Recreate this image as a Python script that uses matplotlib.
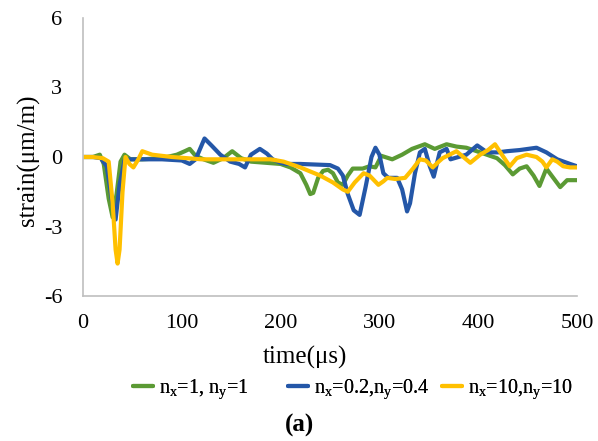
import matplotlib
matplotlib.use('Agg')
import matplotlib.pyplot as plt

# strain traces (time in us, strain in um/m)
t_green = [0, 10, 17, 21, 26, 30, 34, 38, 42, 48, 60, 80, 95, 103, 108, 114, 122, 132, 142, 151,
           160, 170, 185, 200, 210, 220, 226, 230, 233, 238, 243, 248, 253, 258, 263, 268, 273,
           283, 290, 296, 302, 313, 323, 333, 346, 356, 368, 378, 388, 402, 412, 419, 427, 435,
           442, 449, 456, 462, 469, 476, 483, 490, 500]
v_green = [0, 0, 0.1, -0.3, -1.8, -2.6, -1.6, -0.2, 0.1, -0.1, -0.1, -0.05, 0.1, 0.25, 0.35, 0.05,
           -0.1, -0.25, -0.05, 0.25, -0.05, -0.2, -0.25, -0.3, -0.45, -0.7, -1.2, -1.6, -1.55,
           -0.9, -0.6, -0.55, -0.7, -1.1, -1.2, -0.8, -0.5, -0.5, -0.4, -0.45, 0.05, -0.1, 0.1,
           0.35, 0.55, 0.35, 0.55, 0.45, 0.4, 0.2, 0.05, -0.05, -0.35, -0.75, -0.5, -0.4, -0.8,
           -1.25, -0.5, -0.9, -1.3, -1.0, -1.0]

t_blue = [0, 10, 18, 24, 29, 33, 37, 42, 48, 60, 80, 100, 108, 114, 119, 123, 130, 139, 149, 158,
          164, 170, 179, 186, 192, 200, 206, 220, 250, 258, 263, 268, 274, 280, 286, 292, 296,
          300, 304, 309, 318, 323, 328, 331, 336, 341, 346, 351, 355, 361, 368, 372, 380, 388,
          399, 409, 420, 429, 442, 459, 469, 480, 493, 500]
v_blue = [0, 0, -0.05, -0.4, -1.8, -2.7, -1.2, -0.15, -0.1, -0.1, -0.1, -0.15, -0.3, -0.1, 0.4,
          0.8, 0.5, 0.1, -0.2, -0.3, -0.45, 0.1, 0.35, 0.15, -0.1, -0.25, -0.3, -0.3, -0.35,
          -0.5, -0.8, -1.6, -2.3, -2.5, -1.3, 0.0, 0.4, 0.1, -0.7, -0.9, -0.9, -1.4, -2.35,
          -2.0, -0.7, 0.2, 0.35, -0.4, -0.85, 0.2, 0.35, -0.1, 0.0, 0.1, 0.5, 0.2, 0.2, 0.25,
          0.3, 0.4, 0.2, -0.1, -0.3, -0.4]

t_yellow = [0, 10, 20, 26, 30, 33, 35, 37, 40, 43, 47, 51, 56, 60, 70, 90, 120, 160, 190, 203,
            220, 240, 253, 263, 268, 275, 284, 290, 299, 304, 308, 316, 326, 334, 341, 347,
            354, 360, 364, 371, 378, 385, 392, 402, 410, 417, 424, 432, 439, 449, 459, 465,
            469, 475, 480, 486, 493, 500]
v_yellow = [0, 0, -0.05, -0.2, -2.0, -4.0, -4.6, -4.0, -1.5, 0.0, -0.3, -0.45, -0.1, 0.25, 0.1,
            0.0, -0.1, -0.1, -0.1, -0.2, -0.45, -0.8, -1.1, -1.4, -1.5, -1.1, -0.7, -0.8, -1.2,
            -1.05, -0.9, -0.95, -0.9, -0.5, -0.1, -0.15, -0.45, -0.2, -0.05, 0.1, 0.25, 0.0,
            -0.25, 0.1, 0.3, 0.55, 0.1, -0.4, -0.05, 0.1, 0.0, -0.2, -0.45, -0.1, -0.2, -0.4,
            -0.45, -0.45]

labels = [r'n$_\mathregular{x}$=1, n$_\mathregular{y}$=1',
          r'n$_\mathregular{x}$=0.2,n$_\mathregular{y}$=0.4',
          r'n$_\mathregular{x}$=10,n$_\mathregular{y}$=10']
colors = ['#5b9a34', '#2457a8', '#ffc000']

plt.rcParams['font.family'] = ['Liberation Serif', 'DejaVu Serif']
plt.rcParams['mathtext.fontset'] = 'custom'
plt.rcParams['mathtext.rm'] = 'Liberation Serif'
plt.rcParams['axes.unicode_minus'] = False

W, H = 598, 441
fig = plt.figure(figsize=(W / 100, H / 100), dpi=100)
ax = fig.add_axes([83 / W, 1 - 296 / H, 494 / W, 278 / H])

series = [(t_green, v_green), (t_blue, v_blue), (t_yellow, v_yellow)]
lines = []
for (t, v), c, lab in zip(series, colors, labels):
    ln, = ax.plot(t, v, color=c, lw=3.0, label=lab, solid_joinstyle='round', solid_capstyle='round')
    lines.append(ln)

ax.set_xlim(0, 500)
ax.set_ylim(-6, 6)
ax.set_xticks([0, 100, 200, 300, 400, 500])
ax.set_yticks([-6, -3, 0, 3, 6])
ax.tick_params(axis='x', length=0, labelsize=16, pad=13)
ax.tick_params(axis='y', length=0, labelsize=16, pad=15)
for s in ['top', 'right']:
    ax.spines[s].set_visible(False)
for s in ['left', 'bottom']:
    ax.spines[s].set_color('#bfbfbf')
    ax.spines[s].set_linewidth(1.2)

fig.text(305 / W, 1 - 357 / H, 'time(μs)', ha='center', va='center', fontsize=18)
fig.text(28 / W, 1 - 160 / H, 'strain(μm/m)', ha='center', va='center', fontsize=18, rotation=90)

# Excel-style legend: three equally spaced entries
for ln, lab, x0 in zip(lines, labels, [133, 288, 442]):
    leg = fig.legend([ln], [lab], loc='center left', bbox_to_anchor=(x0 / W, 1 - 389 / H),
                     frameon=False, fontsize=14.5, handlelength=1.0, handletextpad=0.3,
                     borderpad=0, borderaxespad=0)
    fig.add_artist(leg)

fig.text(300 / W, 1 - 425 / H, '(a)', ha='center', va='center', fontsize=18, fontweight='bold')

fig.savefig('out.png', dpi=100)
